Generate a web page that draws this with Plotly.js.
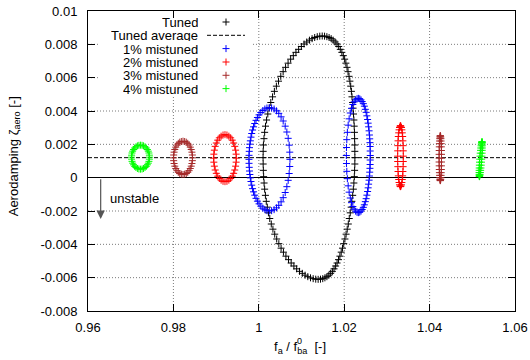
<!DOCTYPE html>
<html>
<head>
<meta charset="utf-8">
<script src="https://cdn.plot.ly/plotly-3.0.1.min.js"></script>
<style>
  html, body { margin: 0; padding: 0; background: #fff; }
  #chart { width: 530px; height: 360px; }
</style>
</head>
<body>
<div id="chart"></div>
<script>
// Axis extents and tick labels
const xRange = [0.96, 1.06];
const yRange = [-0.008, 0.01];
const xTickVals = [0.96, 0.98, 1.0, 1.02, 1.04, 1.06];
const xTickText = ['0.96', '0.98', '1', '1.02', '1.04', '1.06'];
const yTickVals = [-0.008, -0.006, -0.004, -0.002, 0, 0.002, 0.004, 0.006, 0.008, 0.01];
const yTickText = ['-0.008', '-0.006', '-0.004', '-0.002', '0', '0.002', '0.004', '0.006', '0.008', '0.01'];

// Series names and colours
const seriesNames = ['Tuned', 'Tuned average', '1% mistuned', '2% mistuned', '3% mistuned', '4% mistuned'];
const seriesColors = ['#000000', '#000000', '#0000ff', '#ff0000', '#a52a2a', '#00ff00'];

// Tuned rotor: frequency ratio and aerodamping of every mode
const tunedX = [
  1.0225, 1.02249, 1.02247, 1.02244, 1.0224, 1.02234, 1.02227, 1.02218, 1.02208, 1.02197,
  1.02183, 1.02169, 1.02152, 1.02133, 1.02113, 1.0209, 1.02066, 1.02039, 1.0201, 1.01979,
  1.01945, 1.01909, 1.01871, 1.01831, 1.01788, 1.01742, 1.01695, 1.01646, 1.01594, 1.0154, 1.01485,
  1.01428, 1.01369, 1.01309, 1.01248, 1.01186, 1.01123, 1.0106, 1.00997, 1.00933, 1.0087,
  1.00808, 1.00746, 1.00686, 1.00627, 1.0057, 1.00515, 1.00462, 1.00412, 1.00365, 1.00322,
  1.00281, 1.00244, 1.00211, 1.00182, 1.00157, 1.00137, 1.00121, 1.00109, 1.00102, 1.0010,
  1.00102, 1.00106, 1.00113, 1.00124, 1.00137, 1.00155, 1.00175, 1.00199, 1.00226, 1.00257,
  1.00292, 1.00331, 1.00373, 1.00419, 1.00469, 1.00522, 1.00577, 1.00635, 1.00696, 1.00758,
  1.00822, 1.00887, 1.00953, 1.01019, 1.01084, 1.01148, 1.01211, 1.01273, 1.01333, 1.0139,
  1.01445, 1.01498, 1.01548, 1.01595, 1.01641, 1.01683, 1.01724, 1.01762, 1.01799, 1.01833,
  1.01867, 1.01899, 1.0193, 1.0196, 1.01989, 1.02017, 1.02044, 1.02071, 1.02096, 1.02119,
  1.02142, 1.02163, 1.0218, 1.02199, 1.02214, 1.02227, 1.02237, 1.02244, 1.02249
];
const tunedY = [
  0.0012, 0.00158, 0.00196, 0.00234, 0.00272, 0.00309, 0.00346, 0.00382, 0.00417, 0.00451,
  0.00485, 0.00518, 0.00549, 0.00579, 0.00608, 0.00636, 0.00662, 0.00687, 0.00711, 0.00732,
  0.00752, 0.0077, 0.00787, 0.00802, 0.00814, 0.00825, 0.00834, 0.00841, 0.00846, 0.00849, 0.0085,
  0.00849, 0.00846, 0.00841, 0.00834, 0.00825, 0.00814, 0.00802, 0.00787, 0.0077, 0.00752,
  0.00732, 0.00711, 0.00687, 0.00662, 0.00636, 0.00608, 0.00579, 0.00549, 0.00518, 0.00485,
  0.00451, 0.00417, 0.00382, 0.00346, 0.00309, 0.00272, 0.00234, 0.00196, 0.00158, 0.0012,
  0.00082, 0.00044, 0.00006, -0.00032, -0.00069, -0.00106, -0.00142, -0.00177, -0.00211, -0.00245,
  -0.00278, -0.00309, -0.00339, -0.00368, -0.00396, -0.00423, -0.00447, -0.00471, -0.00492, -0.00512,
  -0.0053, -0.00547, -0.00562, -0.00574, -0.00585, -0.00594, -0.00601, -0.00606, -0.00609, -0.0061,
  -0.00609, -0.00606, -0.00601, -0.00594, -0.00585, -0.00574, -0.00562, -0.00547, -0.0053, -0.00512,
  -0.00492, -0.00471, -0.00447, -0.00423, -0.00396, -0.00368, -0.00339, -0.00309, -0.00278, -0.00245,
  -0.00211, -0.00177, -0.00142, -0.00106, -0.00069, -0.00032, 0.00006, 0.00044, 0.00082
];
const tunedAverage = 0.0012;

// 1% mistuning: lower and upper frequency branch
const mis1LowX = [
  1.0073, 1.00725, 1.00711, 1.00688, 1.00657, 1.00618, 1.00571, 1.00522, 1.00468, 1.00414,
  1.00358, 1.003, 1.00246, 1.00191, 1.00142, 1.00094, 1.00047, 1.00006, 0.99968, 0.99935,
  0.99905, 0.99877, 0.99854, 0.99834, 0.99817, 0.99802, 0.99791, 0.99782, 0.99776, 0.99771, 0.9977,
  0.99771, 0.99776, 0.99782, 0.99791, 0.99802, 0.99817, 0.99834, 0.99854, 0.99877, 0.99905,
  0.99935, 0.99968, 1.00006, 1.00047, 1.00094, 1.00142, 1.00191, 1.00246, 1.003, 1.00358,
  1.00414, 1.00468, 1.00522, 1.00571, 1.00618, 1.00657, 1.00688, 1.00711, 1.00725
];
const mis1LowY = [
  0.0011, 0.00153, 0.00195, 0.00236, 0.00274, 0.00309, 0.0034, 0.00365, 0.00386, 0.00401,
  0.00412, 0.00418, 0.0042, 0.00418, 0.00412, 0.00403, 0.00391, 0.00377, 0.00361, 0.00344,
  0.00325, 0.00305, 0.00286, 0.00265, 0.00243, 0.00221, 0.00201, 0.0018, 0.00158, 0.00134, 0.0011,
  0.00086, 0.00062, 0.0004, 0.00019, -0.00001, -0.00023, -0.00045, -0.00066, -0.00085, -0.00105,
  -0.00124, -0.00141, -0.00157, -0.00171, -0.00183, -0.00192, -0.00198, -0.002, -0.00198, -0.00192,
  -0.00181, -0.00166, -0.00145, -0.0012, -0.00089, -0.00054, -0.00016, 0.00025, 0.00067
];
const mis1HighX = [
  1.0205, 1.02053, 1.02061, 1.02074, 1.02093, 1.02116, 1.02143, 1.02171, 1.02203, 1.02234,
  1.02267, 1.02301, 1.02332, 1.02364, 1.02393, 1.02421, 1.02448, 1.02472, 1.02495, 1.02514,
  1.02531, 1.02548, 1.02561, 1.02572, 1.02583, 1.02591, 1.02598, 1.02603, 1.02607, 1.02609, 1.0261,
  1.02609, 1.02607, 1.02603, 1.02598, 1.02591, 1.02583, 1.02572, 1.02561, 1.02548, 1.02531,
  1.02514, 1.02495, 1.02472, 1.02448, 1.02421, 1.02393, 1.02364, 1.02332, 1.02301, 1.02267,
  1.02234, 1.02203, 1.02171, 1.02143, 1.02116, 1.02093, 1.02074, 1.02061, 1.02053
];
const mis1HighY = [
  0.00133, 0.00181, 0.00228, 0.00272, 0.00315, 0.00353, 0.00388, 0.00416, 0.00439, 0.00455,
  0.00467, 0.00474, 0.00476, 0.00473, 0.00467, 0.00457, 0.00444, 0.00429, 0.0041, 0.00392,
  0.00371, 0.00349, 0.00327, 0.00305, 0.00281, 0.00256, 0.00233, 0.0021, 0.00187, 0.0016, 0.00133,
  0.00106, 0.00079, 0.00056, 0.00033, 0.0001, -0.00015, -0.00039, -0.00061, -0.00083, -0.00105,
  -0.00126, -0.00144, -0.00163, -0.00178, -0.00191, -0.00201, -0.00207, -0.0021, -0.00208, -0.00201,
  -0.00189, -0.00173, -0.0015, -0.00122, -0.00087, -0.00049, -0.00006, 0.00038, 0.00085
];

// 2% mistuning
const mis2LowX = [
  0.99473, 0.99469, 0.99457, 0.99437, 0.99411, 0.99378, 0.99341, 0.99299, 0.99254, 0.99208,
  0.99162, 0.99117, 0.99075, 0.99038, 0.99005, 0.98979, 0.98959, 0.98947, 0.98943, 0.98947,
  0.98959, 0.98979, 0.99005, 0.99038, 0.99075, 0.99117, 0.99162, 0.99208, 0.99254, 0.99299,
  0.99341, 0.99378, 0.99411, 0.99437, 0.99457, 0.99469
];
const mis2LowY = [
  0.00117, 0.00141, 0.00165, 0.00188, 0.00208, 0.00225, 0.00239, 0.00249, 0.00256, 0.00258,
  0.00256, 0.00249, 0.00239, 0.00225, 0.00208, 0.00188, 0.00165, 0.00141, 0.00117, 0.00093,
  0.00069, 0.00046, 0.00026, 0.00009, -0.00005, -0.00015, -0.00022, -0.00024, -0.00022, -0.00015,
  -0.00005, 0.00009, 0.00026, 0.00046, 0.00069, 0.00093
];
const mis2HighX = [
  1.03384, 1.03383, 1.0338, 1.03375, 1.03369, 1.0336, 1.03351, 1.03341, 1.03329, 1.03318,
  1.03307, 1.03295, 1.03285, 1.03276, 1.03267, 1.03261, 1.03256, 1.03253, 1.03252, 1.03253,
  1.03256, 1.03261, 1.03267, 1.03276, 1.03285, 1.03295, 1.03307, 1.03318, 1.03329, 1.03341,
  1.03351, 1.0336, 1.03369, 1.03375, 1.0338, 1.03383
];
const mis2HighY = [
  0.00129, 0.00161, 0.00192, 0.00221, 0.00247, 0.00269, 0.00287, 0.00301, 0.00309, 0.00312,
  0.00309, 0.00301, 0.00287, 0.00269, 0.00247, 0.00221, 0.00192, 0.00161, 0.00129, 0.00097,
  0.00066, 0.00037, 0.00011, -0.00011, -0.00029, -0.00043, -0.00051, -0.00054, -0.00051, -0.00043,
  -0.00029, -0.00011, 0.00011, 0.00037, 0.00066, 0.00097
];

// 3% mistuning
const mis3LowX = [
  0.98447, 0.98444, 0.98434, 0.98417, 0.98395, 0.98368, 0.98336, 0.98301, 0.98264, 0.98225,
  0.98186, 0.98149, 0.98114, 0.98082, 0.98055, 0.98033, 0.98016, 0.98006, 0.98003, 0.98006,
  0.98016, 0.98033, 0.98055, 0.98082, 0.98114, 0.98149, 0.98186, 0.98225, 0.98264, 0.98301,
  0.98336, 0.98368, 0.98395, 0.98417, 0.98434, 0.98444
];
const mis3LowY = [
  0.00119, 0.00136, 0.00153, 0.00169, 0.00183, 0.00196, 0.00206, 0.00213, 0.00217, 0.00219,
  0.00217, 0.00213, 0.00206, 0.00196, 0.00183, 0.00169, 0.00153, 0.00136, 0.00119, 0.00102,
  0.00085, 0.00069, 0.00055, 0.00042, 0.00032, 0.00025, 0.00021, 0.00019, 0.00021, 0.00025,
  0.00032, 0.00042, 0.00055, 0.00069, 0.00085, 0.00102
];
const mis3HighX = [
  1.04279, 1.04279, 1.04277, 1.04275, 1.04272, 1.04269, 1.04265, 1.04261, 1.04256, 1.04251,
  1.04246, 1.04241, 1.04237, 1.04233, 1.0423, 1.04227, 1.04225, 1.04223, 1.04223, 1.04223,
  1.04225, 1.04227, 1.0423, 1.04233, 1.04237, 1.04241, 1.04246, 1.04251, 1.04256, 1.04261,
  1.04265, 1.04269, 1.04272, 1.04275, 1.04277, 1.04279
];
const mis3HighY = [
  0.00117, 0.0014, 0.00163, 0.00185, 0.00204, 0.0022, 0.00234, 0.00244, 0.0025, 0.00252,
  0.0025, 0.00244, 0.00234, 0.0022, 0.00204, 0.00185, 0.00163, 0.0014, 0.00117, 0.00094,
  0.00071, 0.00049, 0.0003, 0.00014, 0.0, -0.0001, -0.00016, -0.00018, -0.00016, -0.0001,
  0.0, 0.00014, 0.0003, 0.00049, 0.00071, 0.00094
];

// 4% mistuning
const mis4LowX = [
  0.9744, 0.97437, 0.97427, 0.97412, 0.97391, 0.97365, 0.97335, 0.97301, 0.97266, 0.97229,
  0.97192, 0.97157, 0.97123, 0.97093, 0.97067, 0.97046, 0.97031, 0.97021, 0.97018, 0.97021,
  0.97031, 0.97046, 0.97067, 0.97093, 0.97123, 0.97157, 0.97192, 0.97229, 0.97266, 0.97301,
  0.97335, 0.97365, 0.97391, 0.97412, 0.97427, 0.97437
];
const mis4LowY = [
  0.00123, 0.00135, 0.00148, 0.00159, 0.00169, 0.00178, 0.00185, 0.00191, 0.00194, 0.00195,
  0.00194, 0.00191, 0.00185, 0.00178, 0.00169, 0.00159, 0.00148, 0.00135, 0.00123, 0.00111,
  0.00098, 0.00087, 0.00077, 0.00068, 0.00061, 0.00055, 0.00052, 0.00051, 0.00052, 0.00055,
  0.00061, 0.00068, 0.00077, 0.00087, 0.00098, 0.00111
];
const mis4HighX = [
  1.0522, 1.05225, 1.05229, 1.05232, 1.05234, 1.05235, 1.05235, 1.05233, 1.05231, 1.05227,
  1.05223, 1.05217, 1.05211, 1.05205, 1.05198, 1.05192, 1.05185, 1.05179, 1.05174, 1.05169,
  1.05165, 1.05162, 1.0516, 1.05159, 1.05159, 1.05161, 1.05163, 1.05167, 1.05171, 1.05177,
  1.05183, 1.05189, 1.05196, 1.05202, 1.05209, 1.05215
];
const mis4HighY = [
  0.00111, 0.00129, 0.00147, 0.00164, 0.00178, 0.00191, 0.00202, 0.0021, 0.00214, 0.00216,
  0.00214, 0.0021, 0.00202, 0.00191, 0.00178, 0.00164, 0.00147, 0.00129, 0.00111, 0.00093,
  0.00075, 0.00058, 0.00044, 0.00031, 0.0002, 0.00012, 0.00008, 0.00006, 0.00008, 0.00012,
  0.0002, 0.00031, 0.00044, 0.00058, 0.00075, 0.00093
];

const FONT = 'Liberation Sans, Arial, Helvetica, sans-serif';
const MARKER_SIZE = 5;

function crossTrace(xs, ys, color, size) {
  return {
    type: 'scatter', mode: 'markers', x: xs, y: ys, showlegend: false, hoverinfo: 'skip',
    marker: { symbol: 'cross-thin', size: size || MARKER_SIZE, color: color, line: { color: color, width: 1 } }
  };
}

const traces = [
  crossTrace(tunedX, tunedY, seriesColors[0]),
  {
    type: 'scatter', mode: 'lines', x: xRange, y: [tunedAverage, tunedAverage],
    showlegend: false, hoverinfo: 'skip',
    line: { color: seriesColors[1], width: 1, dash: '4px,2px' }
  },
  crossTrace(mis1LowX.concat(mis1HighX), mis1LowY.concat(mis1HighY), seriesColors[2]),
  crossTrace(mis2LowX.concat(mis2HighX), mis2LowY.concat(mis2HighY), seriesColors[3]),
  crossTrace(mis3LowX.concat(mis3HighX), mis3LowY.concat(mis3HighY), seriesColors[4]),
  crossTrace(mis4LowX.concat(mis4HighX), mis4LowY.concat(mis4HighY), seriesColors[5])
];

// Key in the upper left corner: right-aligned labels, sample glyph to their right
// (positions in fractions of the plotting area)
const keyTextX = 0.261;
const keyGlyphX = 0.3232;
const keyLineX = [0.2787, 0.3677];
const keyRows = [0.9633, 0.919, 0.8747, 0.83, 0.7857, 0.7413];
// Area kept clear of grid lines behind the key (data units)
const keyBox = { x0: 0.96234, x1: 0.99864, y0: 0.00492 };

const annotations = [];
seriesNames.forEach((name, i) => {
  annotations.push({
    xref: 'paper', yref: 'paper', x: keyTextX, y: keyRows[i],
    xanchor: 'right', yanchor: 'middle', showarrow: false, height: 12, borderpad: 0,
    text: name, font: { family: FONT, size: 13, color: '#000' }
  });
  if (i === 1) {
    traces.push({
      type: 'scatter', mode: 'lines', xaxis: 'x2', yaxis: 'y2',
      x: keyLineX, y: [keyRows[i], keyRows[i]], showlegend: false, hoverinfo: 'skip',
      line: { color: seriesColors[i], width: 1, dash: '4px,2px' }
    });
  } else {
    const t = crossTrace([keyGlyphX], [keyRows[i]], seriesColors[i], 5);
    t.xaxis = 'x2'; t.yaxis = 'y2';
    traces.push(t);
  }
});

// "unstable" hint with downward arrow
annotations.push({
  x: 0.96297, y: -0.00248, ax: 0.96297, ay: 0.0, axref: 'x', ayref: 'y', xref: 'x', yref: 'y',
  showarrow: true, arrowhead: 2, arrowsize: 1.4, arrowwidth: 1.2, arrowcolor: '#555',
  text: ''
});
annotations.push({
  x: 0.97089, y: -0.00123, xref: 'x', yref: 'y', showarrow: false,
  text: 'unstable', font: { family: FONT, size: 13, color: '#000' }
});

// Axis titles
annotations.push({
  xref: 'paper', yref: 'paper', x: -0.1733, y: 0.5157, textangle: -90,
  xanchor: 'center', yanchor: 'middle', showarrow: false,
  text: 'Aerodamping \u03b6<sub>aero</sub> [-]', font: { family: FONT, size: 13, color: '#000' }
});
annotations.push({
  xref: 'paper', yref: 'paper', x: 0.4965, y: -0.121,
  xanchor: 'center', yanchor: 'middle', showarrow: false,
  text: 'f<sub>a</sub> / f<sub>ba</sub>\u00a0\u00a0[-]', font: { family: FONT, size: 13, color: '#000' }
});
annotations.push({
  xref: 'paper', yref: 'paper', x: 0.495, y: -0.1,
  xanchor: 'center', yanchor: 'middle', showarrow: false,
  text: '0', font: { family: FONT, size: 9, color: '#000' }
});

// Dotted grid, left open behind the key
const gridLine = { color: '#7a7a7a', width: 1, dash: '1px,2px' };
const shapes = [];
xTickVals.slice(1, -1).forEach(v => {
  const top = (v > keyBox.x0 && v < keyBox.x1) ? keyBox.y0 : yRange[1];
  shapes.push({ type: 'line', xref: 'x', yref: 'y', x0: v, x1: v, y0: yRange[0], y1: top, line: gridLine, layer: 'below' });
});
yTickVals.slice(1, -1).forEach(v => {
  if (v === 0) return;
  if (v > keyBox.y0) {
    shapes.push({ type: 'line', xref: 'x', yref: 'y', x0: xRange[0], x1: keyBox.x0, y0: v, y1: v, line: gridLine, layer: 'below' });
    shapes.push({ type: 'line', xref: 'x', yref: 'y', x0: keyBox.x1, x1: xRange[1], y0: v, y1: v, line: gridLine, layer: 'below' });
  } else {
    shapes.push({ type: 'line', xref: 'x', yref: 'y', x0: xRange[0], x1: xRange[1], y0: v, y1: v, line: gridLine, layer: 'below' });
  }
});

const axisCommon = {
  showline: true, linecolor: '#000', linewidth: 1, mirror: 'ticks',
  ticks: 'inside', ticklen: 7, tickwidth: 1, tickcolor: '#000', showgrid: false,
  tickfont: { family: FONT, size: 13, color: '#000' }, fixedrange: true
};

const layout = {
  width: 530, height: 360,
  margin: { l: 88, r: 15, t: 11, b: 49, pad: 0 },
  paper_bgcolor: '#fff', plot_bgcolor: '#fff',
  showlegend: false,
  xaxis: Object.assign({}, axisCommon, {
    range: xRange, tickmode: 'array', tickvals: xTickVals, ticktext: xTickText,
    zeroline: false, ticklabelstandoff: 4
  }),
  yaxis: Object.assign({}, axisCommon, {
    range: yRange, tickmode: 'array', tickvals: yTickVals, ticktext: yTickText,
    zeroline: true, zerolinecolor: '#000', zerolinewidth: 1, ticklabelstandoff: 7
  }),
  xaxis2: { overlaying: 'x', anchor: 'y2', range: [0, 1], visible: false, fixedrange: true },
  yaxis2: { overlaying: 'y', anchor: 'x2', range: [0, 1], visible: false, fixedrange: true },
  shapes: shapes,
  annotations: annotations
};

Plotly.newPlot('chart', traces, layout, { staticPlot: true, displayModeBar: false });
</script>
</body>
</html>
